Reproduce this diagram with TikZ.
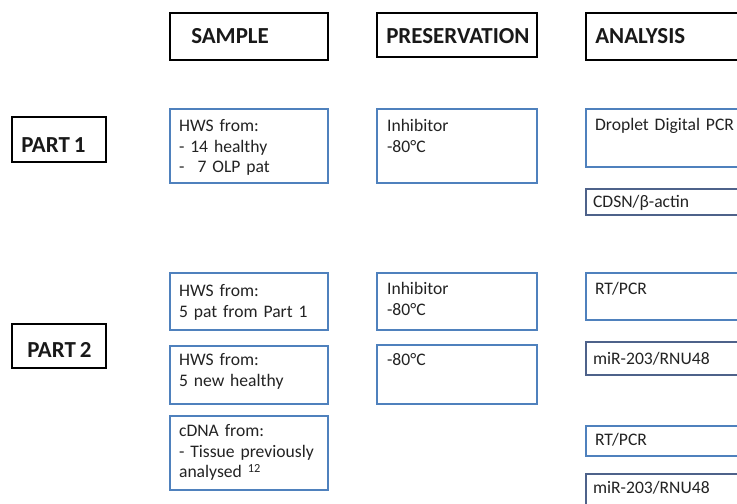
\documentclass[tikz,border=0pt]{standalone}
\usepackage{fontspec}
\setmainfont{Carlito}[WordSpace=0.8]
\usetikzlibrary{fit,calc}
\definecolor{boxblue}{RGB}{79,129,189}
\definecolor{boxslate}{RGB}{78,98,138}
\definecolor{txtgray}{RGB}{35,35,35}
\tikzset{
  headbox/.style={draw=black, line width=1.5pt, inner sep=0pt},
  bluebox/.style={draw=boxblue, line width=1.8pt, inner sep=0pt},
  slatebox/.style={draw=boxslate, line width=1.8pt, inner sep=0pt},
  headtext/.style={font=\fontsize{17.2}{20}\selectfont\bfseries, text=black!90, anchor=base west, inner sep=0pt},
  bodytext/.style={font=\fontsize{13.2}{15.4}\selectfont, text=txtgray, anchor=base west, inner sep=0pt, text width=118pt, align=left},
}

\begin{document}
\begin{tikzpicture}[x=0.75pt,y=-0.75pt]
	\clip (0,0) rectangle (737,503);
	\fill[white] (0,0) rectangle (737,503);
	% column heads
	\node[headbox, fit={(170,13) (328,60)}] (sample) {};
	\node[headbox, fit={(377,13) (537,57)}] (preserv) {};
	\node[headbox, fit={(586,13) (770,60)}] (analysis) {};
	\node[headtext] (sampletxt) at ([shift={(22,32)}]sample.north west) {SAMPLE};
	\node[headtext] (preservtxt) at ([shift={(10,32)}]preserv.north west) {PRESERVATION};
	\node[headtext] (analysistxt) at ([shift={(10,32)}]analysis.north west) {ANALYSIS};
	% row heads
	\node[headbox, fit={(12,117) (106,162)}] (partone) {};
	\node[headbox, fit={(12,324) (106,368)}] (parttwo) {};
	\node[headtext] (partonetxt) at ([shift={(10,36)}]partone.north west) {PART 1};
	\node[headtext] (parttwotxt) at ([shift={(16,34)}]parttwo.north west) {PART 2};
	% part 1
	\node[bluebox, fit={(170,109) (328,183)}] (hwsa) {};
	\node[bluebox, fit={(377,109) (537,183)}] (inhiba) {};
	\node[bluebox, fit={(586,109) (770,167)}] (ddpcr) {};
	\node[slatebox, fit={(586,189) (770,215)}] (cdsn) {};
	\node[bodytext] (hwsatxt) at ([shift={(10,24)}]hwsa.north west) {HWS from:\\- 14 healthy\\-\hspace{0.75em}7 OLP pat};
	\node[bodytext] (inhibatxt) at ([shift={(11,24)}]inhiba.north west) {Inhibitor\\-80°C};
	\node[bodytext] (ddpcrtxt) at ([shift={(10,23)}]ddpcr.north west) {Droplet Digital PCR};
	\node[bodytext] (cdsntxt) at ([shift={(8,20)}]cdsn.north west) {CDSN/β-actin};
	% part 2
	\node[bluebox, fit={(170,273) (328,330)}] (hwsb) {};
	\node[bluebox, fit={(170,346) (328,404)}] (hwsc) {};
	\node[bluebox, fit={(170,416) (328,490)}] (cdna) {};
	\node[bluebox, fit={(377,273) (537,330)}] (inhibb) {};
	\node[bluebox, fit={(377,345) (537,404)}] (frozen) {};
	\node[bluebox, fit={(586,273) (770,320)}] (rtpcra) {};
	\node[slatebox, fit={(586,342) (770,375)}] (mira) {};
	\node[bluebox, fit={(586,426) (770,456)}] (rtpcrb) {};
	\node[slatebox, fit={(586,474) (770,520)}] (mirb) {};
	\node[bodytext] (hwsbtxt) at ([shift={(10,25)}]hwsb.north west) {HWS from:\\5 pat from Part 1};
	\node[bodytext] (hwsctxt) at ([shift={(10,21)}]hwsc.north west) {HWS from:\\5 new healthy};
	\node[bodytext] (cdnatxt) at ([shift={(10,22)}]cdna.north west) {cDNA from:\\- Tissue previously\\analysed \textsuperscript{12}};
	\node[bodytext] (inhibbtxt) at ([shift={(11,23)}]inhibb.north west) {Inhibitor\\-80°C};
	\node[bodytext] (frozentxt) at ([shift={(11,22)}]frozen.north west) {-80°C};
	\node[bodytext] (rtpcratxt) at ([shift={(10,23)}]rtpcra.north west) {RT/PCR};
	\node[bodytext] (miratxt) at ([shift={(8,24)}]mira.north west) {miR-203/RNU48};
	\node[bodytext] (rtpcrbtxt) at ([shift={(10,21)}]rtpcrb.north west) {RT/PCR};
	\node[bodytext] (mirbtxt) at ([shift={(8,21)}]mirb.north west) {miR-203/RNU48};
\end{tikzpicture}
\end{document}
